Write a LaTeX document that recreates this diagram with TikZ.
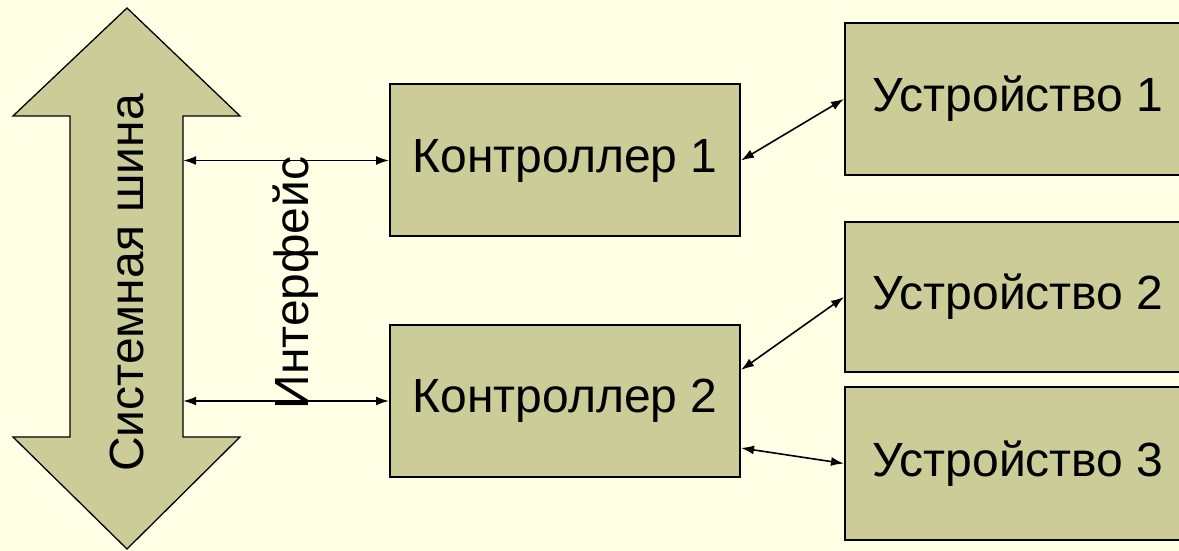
\documentclass[tikz,border=0pt]{standalone}
\usepackage{fontspec}
\setmainfont{Liberation Sans}
\usetikzlibrary{arrows.meta,calc}

\definecolor{bgyellow}{RGB}{255,255,230}
\definecolor{khaki}{RGB}{204,204,153}

\tikzset{
	blockbox/.style = {draw=black, line width=2pt, fill=khaki, minimum width=350pt,
		minimum height=152pt, inner sep=0pt, font=\fontsize{48}{57}\selectfont},
	link/.style = {line width=1.6pt, {Latex[length=13pt,width=9pt]}-{Latex[length=13pt,width=9pt]}}
}

\begin{document}
\begin{tikzpicture}[x=1pt,y=1pt]
	\fill[bgyellow] (0,0) rectangle (1179,551);
	\useasboundingbox (0,0) rectangle (1179,551);
	% system bus
	\draw[line width=1.3pt, fill=khaki] (127,543) -- (240,435) -- (183,435) -- (183,114)
		-- (240,114) -- (127,2) -- (13,114) -- (70,114) -- (70,435) -- (13,435) -- cycle;
	\node (bus) [minimum width=113pt, minimum height=321pt, inner sep=0pt] at (126.5,274.5) {};
	\node (busname) [rotate=90, font=\fontsize{48}{57}\selectfont] at (127,268) {Системная шина};
	\node (iface) [rotate=90, font=\fontsize{48}{57}\selectfont] at (296,268) {Интерфейс};
	% controllers
	\node (ctrl1) [blockbox] at (565,390.5) {Контроллер 1};
	\node (ctrl2) [blockbox] at (565,150) {Контроллер 2};
	% devices
	\node (dev1) [blockbox, minimum width=346pt] at (1018,452) {Устройство 1};
	\node (dev2) [blockbox, minimum width=346pt, minimum height=150pt] at (1018,254) {Устройство 2};
	\node (dev3) [blockbox, minimum width=346pt, minimum height=153pt] at (1018,87.5) {Устройство 3};
	% links
	\draw[link] (bus.east |- ctrl1.west) -- (ctrl1.west);
	\draw[link] (bus.east |- ctrl2.west) -- (ctrl2.west);
	\draw[link] (ctrl1.east) -- (dev1.west);
	\draw[link] ($(ctrl2.east)+(0,31)$) -- (dev2.west);
	\draw[link] ($(ctrl2.east)+(0,-47)$) -- (dev3.west);
\end{tikzpicture}
\end{document}
